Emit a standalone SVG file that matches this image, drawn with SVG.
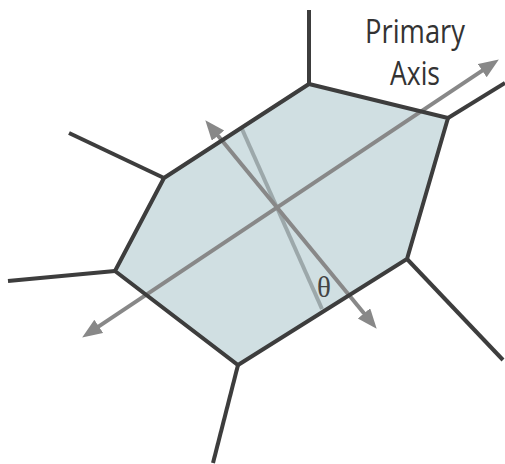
<svg xmlns="http://www.w3.org/2000/svg" width="505" height="464" viewBox="0 0 505 464">
<style>
.edge{fill:none;stroke:#3d3d3d;stroke-width:4;stroke-linejoin:miter}
.axis{stroke:#888;stroke-width:4;fill:none}
.faint{stroke:#8e9a9c;stroke-width:4;fill:none;opacity:0.8}
.lbl{font-family:"Open Sans","Liberation Sans",sans-serif;font-size:33px;fill:#333}
.th{font-family:"Liberation Serif","DejaVu Serif",serif;font-size:29px;fill:#444}
</style>
<defs>
<marker id="ah" markerUnits="userSpaceOnUse" markerWidth="22" markerHeight="18" refX="9" refY="8" orient="auto-start-reverse">
<path d="M0,0 L20,8 L0,16 z" fill="#888"/>
</marker>
</defs>
<g id="cell-fill">
<polygon points="309,84 448,118 407,259 238,365 115,271 164,178" fill="#d0dfe2"/>
</g>
<g id="connectors">
<line class="faint" x1="242" y1="129" x2="322" y2="309"/>
<line id="primary-axis" class="axis" x1="91.3" y1="331.4" x2="489.7" y2="65.6" marker-start="url(#ah)" marker-end="url(#ah)"/>
<line id="secondary-axis" class="axis" x1="212.3" y1="128.7" x2="369.7" y2="320.3" marker-start="url(#ah)" marker-end="url(#ah)"/>
</g>
<g id="cell">
<polygon class="edge" points="309,84 448,118 407,259 238,365 115,271 164,178"/>
<line class="edge" x1="309" y1="84" x2="309" y2="10"/>
<line class="edge" x1="448" y1="118" x2="505" y2="83"/>
<line class="edge" x1="407" y1="259" x2="503" y2="360"/>
<line class="edge" x1="238" y1="365" x2="213" y2="463"/>
<line class="edge" x1="115" y1="271" x2="8" y2="281"/>
<line class="edge" x1="164" y1="178" x2="69" y2="133"/>
</g>
<g id="label-primary">
<text class="lbl" x="415" y="43" text-anchor="middle" textLength="100" lengthAdjust="spacingAndGlyphs">Primary</text>
<text class="lbl" x="415" y="85" text-anchor="middle" textLength="50" lengthAdjust="spacingAndGlyphs">Axis</text>
</g>
<g id="label-theta">
<text class="th" x="317" y="297">θ</text>
</g>
</svg>
